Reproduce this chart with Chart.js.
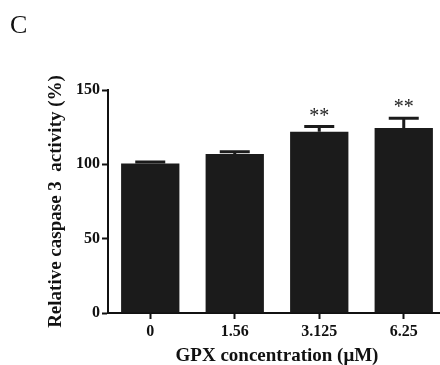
<!DOCTYPE html>
<html lang="en">
<head>
    <meta charset="UTF-8">
    <title>Relative caspase 3 activity</title>
    <script src="https://cdn.jsdelivr.net/npm/chart.js"></script>
    <style>
        html, body { margin: 0; padding: 0; background: #fff; overflow: hidden; }
    </style>
</head>
<body>
    <canvas id="caspaseChart" width="446" height="365"></canvas>

    <script>
        // data
        const concentrations = ["0", "1.56", "3.125", "6.25"];
        const activity = [100.5, 107, 122, 124.5];   // mean, %
        const errorUp = [1, 1.5, 3.5, 6.5];          // SD, upper only
        const significance = ["", "", "**", "**"];
        const yTicks = [0, 50, 100, 150];

        Chart.defaults.font.family = "'Liberation Serif', 'Times New Roman', serif";
        Chart.defaults.color = "#111";

        // error bars, stars and the panel letter
        const extras = {
            id: "extras",
            afterDatasetsDraw(chart) {
                const ctx = chart.ctx;
                const x = chart.scales.x, y = chart.scales.y;
                ctx.save();
                ctx.strokeStyle = "#1b1b1b";
                ctx.lineWidth = 3;
                activity.forEach((v, i) => {
                    const cx = x.getPixelForValue(i);
                    const top = y.getPixelForValue(v + errorUp[i]);
                    ctx.beginPath();
                    ctx.moveTo(cx, y.getPixelForValue(v));
                    ctx.lineTo(cx, top);
                    ctx.moveTo(cx - 15, top);
                    ctx.lineTo(cx + 15, top);
                    ctx.stroke();
                    if (significance[i]) {
                        ctx.fillStyle = "#222";
                        ctx.font = "20px 'Liberation Serif'";
                        ctx.textAlign = "center";
                        ctx.textBaseline = "middle";
                        ctx.fillText(significance[i], cx, top - 10);
                    }
                });
                ctx.fillStyle = "#111";
                ctx.font = "26px 'Liberation Serif'";
                ctx.textAlign = "left";
                ctx.textBaseline = "alphabetic";
                ctx.fillText("C", 10, 33);
                ctx.restore();
            }
        };

        const ctx = document.getElementById("caspaseChart").getContext("2d");
        new Chart(ctx, {
            type: "bar",
            data: {
                labels: concentrations,
                datasets: [{
                    data: activity,
                    backgroundColor: "#1b1b1b",
                    barPercentage: 0.69,
                    categoryPercentage: 1
                }]
            },
            options: {
                responsive: false,
                animation: false,
                layout: { padding: { top: 90, left: 0, right: 0, bottom: 0 } },
                plugins: { legend: { display: false }, tooltip: { enabled: false } },
                scales: {
                    x: {
                        afterFit: s => { s.height = 52; },
                        grid: {
                            offset: false,
                            drawOnChartArea: false,
                            tickLength: 6,
                            tickWidth: 2,
                            color: "#111"
                        },
                        border: { color: "#111", width: 2 },
                        ticks: { font: { size: 16, weight: "bold" }, padding: 3, maxRotation: 0 },
                        title: {
                            display: true,
                            text: "GPX concentration (μM)",
                            font: { size: 19, weight: "bold", lineHeight: 1 },
                            padding: { top: 0, bottom: -1 }
                        }
                    },
                    y: {
                        min: 0,
                        max: 150,
                        afterFit: s => { s.width = 108; },
                        afterBuildTicks: s => { s.ticks = yTicks.map(v => ({ value: v })); },
                        grid: {
                            drawOnChartArea: false,
                            tickLength: 6,
                            tickWidth: 2,
                            color: "#111"
                        },
                        border: { color: "#111", width: 2 },
                        ticks: { font: { size: 16, weight: "bold" }, padding: 2 },
                        title: {
                            display: true,
                            text: "Relative caspase 3  activity (%)",
                            font: { size: 19, weight: "bold", lineHeight: 1.2 },
                            padding: { top: 45, bottom: 0 }
                        }
                    }
                }
            },
            plugins: [extras]
        });
    </script>
</body>
</html>
